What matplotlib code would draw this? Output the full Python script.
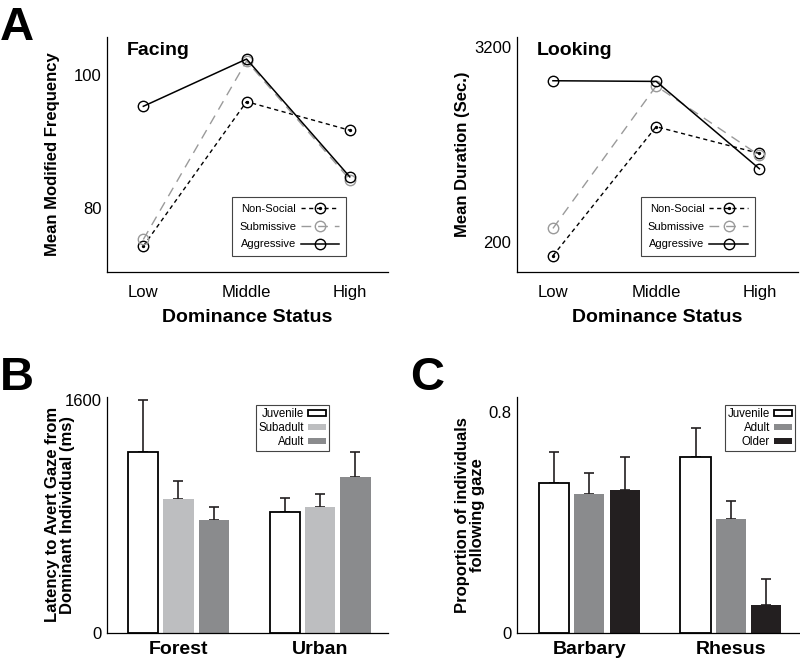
import matplotlib

matplotlib.use("Agg")
import matplotlib.pyplot as plt
import numpy as np
from matplotlib.legend_handler import HandlerTuple

plt.rcParams["font.family"] = ["Liberation Sans", "DejaVu Sans"]

STATUS = ["Low", "Middle", "High"]
FACING_NONSOCIAL = [74.3, 96.0, 91.7]
FACING_SUBMISSIVE = [75.3, 102.1, 84.3]
FACING_AGGRESSIVE = [95.3, 102.4, 84.7]
LOOKING_NONSOCIAL = [-5, 1975, 1565]
LOOKING_SUBMISSIVE = [415, 2600, 1535]
LOOKING_AGGRESSIVE = [2680, 2670, 1330]

HABITAT = ["Forest", "Urban"]
AGE_B = ["Juvenile", "Subadult", "Adult"]
LATENCY = {"Juvenile": [1240, 825], "Subadult": [920, 864], "Adult": [770, 1069]}
LATENCY_ERR = {"Juvenile": [355, 98], "Subadult": [121, 87], "Adult": [94, 172]}

SPECIES = ["Barbary", "Rhesus"]
AGE_C = ["Juvenile", "Adult", "Older"]
FOLLOW = {"Juvenile": [0.543, 0.636], "Adult": [0.503, 0.413], "Older": [0.515, 0.099]}
FOLLOW_ERR = {"Juvenile": [0.109, 0.104], "Adult": [0.073, 0.064], "Older": [0.120, 0.094]}

GRAY = "#9a9a9a"
DARK = "#231f20"
BAR_COLORS_B = {"Juvenile": "white", "Subadult": "#bdbec0", "Adult": "#8a8b8d"}
BAR_COLORS_C = {"Juvenile": "white", "Adult": "#8a8b8d", "Older": DARK}

fig = plt.figure(figsize=(8, 6.62), dpi=100)


def style_axes(ax):
    for side in ("top", "right"):
        ax.spines[side].set_visible(False)
    for side in ("left", "bottom"):
        ax.spines[side].set_linewidth(0.9)
    ax.tick_params(length=0, labelsize=12, pad=4)


def line_panel(rect, nonsocial, submissive, aggressive, ylim, yticks, ylabel, title, leg_x):
    ax = fig.add_axes(rect)
    style_axes(ax)
    x = np.arange(1, 4)
    mk = dict(marker="o", ms=7.5, mfc="none", mew=1.0)
    ns, = ax.plot(x, nonsocial, color="black", lw=1.0, dashes=(3, 2.5), **mk)
    ns_dot, = ax.plot(x, nonsocial, color="black", ls="none", marker="o", ms=1.4)
    sub, = ax.plot(x, submissive, color=GRAY, lw=1.0, dashes=(7, 5), **mk)
    agg, = ax.plot(x, aggressive, color="black", lw=1.1, **mk)
    ax.set_xlim(0.65, 3.37)
    ax.set_ylim(*ylim)
    ax.set_yticks(yticks)
    ax.set_xticks(x)
    ax.set_xticklabels(STATUS)
    ax.tick_params(axis="x", pad=9)
    ax.set_ylabel(ylabel, fontsize=12, fontweight="bold")
    ax.yaxis.set_label_coords(-0.167, 0.5)
    ax.set_xlabel("Dominance Status", fontsize=14, fontweight="bold")
    ax.xaxis.set_label_coords(0.5, -0.155)
    ax.text(0.07, 0.923, title, transform=ax.transAxes, fontsize=14,
            fontweight="bold", va="baseline")
    leg = ax.legend([(ns, ns_dot), sub, agg], ["Non-Social", "Submissive", "Aggressive"],
                    handler_map={tuple: HandlerTuple(ndivide=1)},
                    loc="lower right", bbox_to_anchor=(leg_x, 0.068),
                    fontsize=8, markerfirst=False, handlelength=3.5,
                    fancybox=False, framealpha=1, edgecolor="#444444",
                    borderpad=0.6, labelspacing=0.7, handletextpad=0.4,
                    borderaxespad=0)
    leg.get_frame().set_linewidth(0.8)
    return ax


line_panel([0.134, 0.589, 0.351, 0.355], FACING_NONSOCIAL, FACING_SUBMISSIVE,
           FACING_AGGRESSIVE, (70.4, 105.7), [80, 100], "Mean Modified Frequency",
           "Facing", 0.851)
line_panel([0.646, 0.589, 0.351, 0.355], LOOKING_NONSOCIAL, LOOKING_SUBMISSIVE,
           LOOKING_AGGRESSIVE, (-255, 3350), [200, 3200], "Mean Duration (Sec.)",
           "Looking", 0.847)


def bar_panel(rect, groups, ages, values, errors, colors, ylim, yticks, yticklabels,
              ylabel, xlim, leg_anchor):
    ax = fig.add_axes(rect)
    style_axes(ax)
    gx = np.arange(len(groups))
    step, width = 0.25, 0.213
    handles = []
    for i, age in enumerate(ages):
        pos = gx + (i - 1) * step
        face = colors[age]
        edge = "black" if face == "white" else face
        bars = ax.bar(pos, values[age], width=width, color=face, edgecolor=edge,
                      linewidth=1.3 if face == "white" else 0.0, zorder=2)
        handles.append(bars)
        err = np.array(errors[age])
        ax.errorbar(pos, values[age], yerr=[np.zeros_like(err), err], fmt="none",
                    ecolor=DARK, elinewidth=1.2, capsize=3.8, capthick=1.2, zorder=1)
    ax.set_xlim(*xlim)
    ax.set_ylim(*ylim)
    ax.set_yticks(yticks)
    ax.set_yticklabels(yticklabels)
    ax.set_xticks(gx)
    ax.set_xticklabels(groups, fontsize=14, fontweight="bold")
    ax.tick_params(axis="x", pad=6)
    ax.set_ylabel(ylabel, fontsize=12, fontweight="bold", linespacing=1.0)
    ax.yaxis.set_label_coords(-0.114, 0.5)
    leg = ax.legend(handles, ages, loc="upper right", bbox_to_anchor=leg_anchor,
                    fontsize=8.3, markerfirst=False, handlelength=1.6, handleheight=0.45,
                    fancybox=False, framealpha=1, edgecolor="#444444",
                    borderpad=0.25, labelspacing=0.2, handletextpad=0.3,
                    borderaxespad=0)
    leg.get_frame().set_linewidth(0.8)
    return ax


bar_panel([0.134, 0.0443, 0.351, 0.3565], HABITAT, AGE_B, LATENCY, LATENCY_ERR,
          BAR_COLORS_B, (0, 1620), [0, 1600], ["0", "1600"],
          "Latency to Avert Gaze from\nDominant Individual (ms)",
          (-0.503, 1.48), (0.79, 0.965))
bar_panel([0.6466, 0.0443, 0.3534, 0.3565], SPECIES, AGE_C, FOLLOW, FOLLOW_ERR,
          BAR_COLORS_C, (0, 0.854), [0, 0.8], ["0", "0.8"],
          "Proportion of individuals\nfollowing gaze",
          (-0.507, 1.487), (0.982, 0.965))

fig.text(0.0, 1 - 40 / 662, "A", fontsize=34, fontweight="bold", va="baseline")
fig.text(0.0, 1 - 390 / 662, "B", fontsize=34, fontweight="bold", va="baseline")
fig.text(410 / 800, 1 - 390 / 662, "C", fontsize=34, fontweight="bold", va="baseline")

fig.savefig("out.png", dpi=100)
plt.close(fig)
